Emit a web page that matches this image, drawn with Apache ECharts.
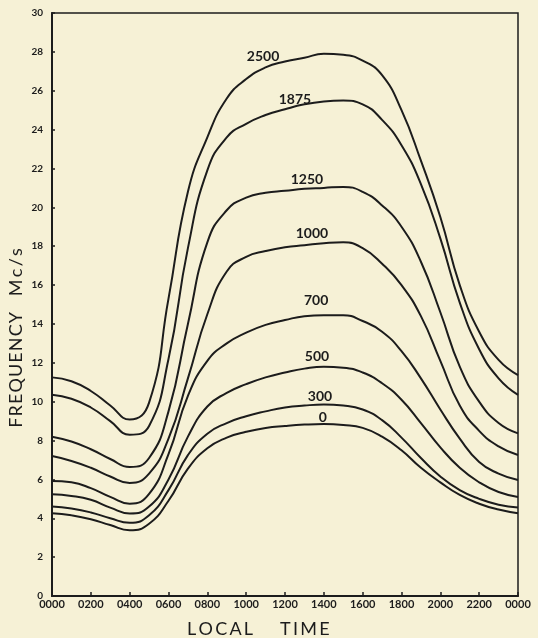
<!DOCTYPE html>
<html>
<head>
<meta charset="utf-8">
<script src="https://cdn.jsdelivr.net/npm/echarts@6/dist/echarts.min.js"></script>
<style>
html,body{margin:0;padding:0;background:#f6f1d6;}
#chart{width:538px;height:638px;}
</style>
</head>
<body>
<div id="chart"></div>
<script>
const hours = [0,1,2,3,4,5,6,7,8,9,10,11,12,13,14,15,16,17,18,19,20,21,22,23,24];

const f2500 = [11.25,11.05,10.55,9.8,9.08,9.95,15.3,20.8,23.6,25.6,26.6,27.2,27.5,27.7,27.9,27.85,27.55,26.8,25.0,22.4,19.5,16.0,13.6,12.15,11.37];
const f1875 = [10.35,10.15,9.7,9.0,8.3,8.75,12.2,17.9,21.9,23.6,24.3,24.75,25.05,25.3,25.45,25.5,25.3,24.5,23.2,21.2,18.4,15.1,12.7,11.2,10.35];
const f1250 = [8.2,7.95,7.55,7.05,6.64,7.1,9.5,14.0,18.2,19.85,20.5,20.75,20.85,20.95,21.0,21.05,20.8,20.1,19.0,17.2,14.6,11.8,10.0,8.9,8.37];
const f1000 = [7.2,6.95,6.6,6.15,5.82,6.3,8.1,11.2,14.5,16.7,17.45,17.75,17.95,18.05,18.15,18.2,17.9,17.1,16.0,14.4,12.1,9.8,8.5,7.7,7.26];
const f700  = [5.92,5.85,5.55,5.1,4.75,5.25,7.3,10.3,12.1,13.0,13.55,13.95,14.2,14.4,14.45,14.45,14.15,13.6,12.6,11.2,9.6,8.1,6.9,6.3,5.97];
const f500  = [5.23,5.15,4.95,4.55,4.25,4.6,6.0,8.2,9.75,10.45,10.9,11.25,11.5,11.7,11.8,11.75,11.5,10.95,10.1,8.9,7.65,6.6,5.85,5.35,5.1];
const f300  = [4.6,4.5,4.3,4.0,3.77,4.15,5.45,7.25,8.35,8.9,9.25,9.5,9.7,9.8,9.85,9.8,9.6,9.05,8.15,7.1,6.15,5.45,5.0,4.7,4.55];
const f0    = [4.26,4.15,3.95,3.65,3.38,3.72,4.9,6.55,7.6,8.15,8.45,8.65,8.75,8.82,8.85,8.8,8.65,8.2,7.5,6.6,5.85,5.2,4.75,4.45,4.26];

const curveNames = ['2500','1875','1250','1000','700','500','300','0'];
const curveValues = [f2500,f1875,f1250,f1000,f700,f500,f300,f0];
// label anchor (hour, frequency) for each curve's annotation
const labelHours = [10.87,12.51,13.13,13.39,13.6,13.65,13.8,13.95];
const labelFreqs = [27.74,25.53,21.41,18.63,15.23,12.3,10.29,9.21];

const xTickLabels = ['0000','0200','0400','0600','0800','1000','1200','1400','1600','1800','2000','2200','0000'];

const ink = '#1c1c1c';
const chart = echarts.init(document.getElementById('chart'), null, {renderer:'canvas'});

const series = curveNames.map((name, i) => ({
  name: name,
  type: 'line',
  data: hours.map((h, j) => [h, curveValues[i][j]]),
  smooth: 0.5,
  showSymbol: false,
  symbol: 'none',
  lineStyle: {color: ink, width: 2},
  animation: false,
  silent: true,
  markPoint: {
    symbol: 'circle',
    symbolSize: 1,
    itemStyle: {color: 'rgba(0,0,0,0)'},
    label: {
      show: true, position: 'inside', formatter: name,
      color: ink, fontFamily: 'Lato', fontSize: 14, fontWeight: 'bold'
    },
    data: [{coord: [labelHours[i], labelFreqs[i]]}],
    animation: false
  }
}));

chart.setOption({
  backgroundColor: '#f6f1d6',
  animation: false,
  grid: {left: 52, right: 20, top: 13, bottom: 42, show: true,
         borderColor: ink, borderWidth: 1.5, backgroundColor: 'transparent'},
  xAxis: {
    type: 'value', min: 0, max: 24, interval: 2,
    axisLine: {show: true, lineStyle: {color: ink, width: 2}},
    axisTick: {show: true, inside: true, length: 4, lineStyle: {color: ink, width: 1.5}},
    splitLine: {show: false},
    axisLabel: {
      margin: 3, color: ink, fontFamily: 'Liberation Sans Narrow, Lato, sans-serif', fontSize: 11,
      fontWeight: 'bold',
      formatter: v => xTickLabels[Math.round(v / 2)]
    }
  },
  yAxis: {
    type: 'value', min: 0, max: 30, interval: 2,
    axisLine: {show: true, lineStyle: {color: ink, width: 2}},
    axisTick: {show: true, inside: true, length: 3, lineStyle: {color: ink, width: 1.5}},
    splitLine: {show: false},
    axisLabel: {
      margin: 9, color: ink, fontFamily: 'Liberation Sans Narrow, Lato, sans-serif',
      fontSize: 10, fontWeight: 'bold'
    }
  },
  graphic: [
    {type: 'text', x: 187, y: 629,
     style: {text: 'L\u2009O\u2009C\u2009A\u2009L\u2003\u2003T\u2009I\u2009M\u2009E',
             fill: ink, font: '18px Lato', textAlign: 'left', textVerticalAlign: 'middle'}},
    {type: 'text', x: 16, y: 338, rotation: Math.PI / 2,
     style: {text: 'F\u200aR\u200aE\u200aQ\u200aU\u200aE\u200aN\u200aC\u200aY\u2003\u2009M\u2009c\u2009/\u2009s',
             fill: ink, font: '18px Lato', textAlign: 'center', textVerticalAlign: 'middle'}}
  ],
  series: series
});
</script>
</body>
</html>
